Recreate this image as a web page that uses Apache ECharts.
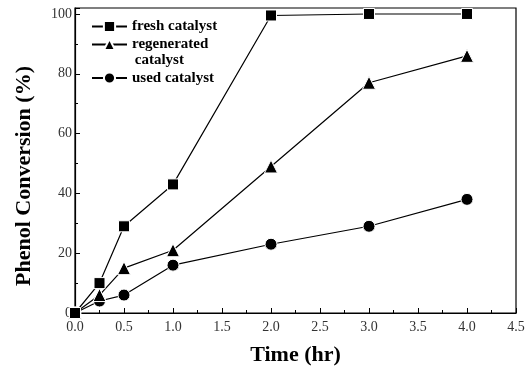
<!DOCTYPE html>
<html>
<head>
<meta charset="utf-8">
<script src="https://cdn.jsdelivr.net/npm/echarts@6/dist/echarts.min.js"></script>
<style>
    html, body { margin: 0; padding: 0; background: #fff; }
    #chart { width: 529px; height: 371px; }
</style>
</head>
<body>
<div id="chart"></div>
<script>
// 时间点 (hr)
const times = [0, 0.25, 0.5, 1, 2, 3, 4];

// 三种催化剂的苯酚转化率 (%)
const freshValues = [0, 10, 29, 43, 99.5, 100, 100];
const regeneratedValues = [0, 6, 15, 21, 49, 77, 86];
const usedValues = [0, 4, 6, 16, 23, 29, 38];

const seriesNames = ['fresh catalyst', 'regenerated\n catalyst', 'used catalyst'];
const seriesSymbols = ['rect', 'triangle', 'circle'];
const seriesSizes = [11, 13, 12];

const serifFont = '"Liberation Serif", "DejaVu Serif", serif';

function toPairs(values) {
    return times.map((t, i) => [t, values[i]]);
}

function makeSeries(name, values, idx) {
    return {
        name: name,
        type: 'line',
        data: toPairs(values),
        symbol: seriesSymbols[idx],
        symbolSize: seriesSizes[idx],
        lineStyle: { color: '#000', width: 1.2 },
        itemStyle: { color: '#000', borderColor: '#fff', borderWidth: 1 },
        emphasis: { disabled: true },
        z: 3 - idx
    };
}

const legendText = { fontFamily: serifFont, fontWeight: 'bold', fontSize: 15, color: '#000', lineHeight: 17 };

// 图例公共样式 (多行名称只显示第一行, 第二行用 graphic 补上)
const legendBase = {
    orient: 'vertical',
    left: 91,
    padding: 0,
    itemWidth: 35,
    itemHeight: 14,
    itemGap: 1,
    formatter: name => name.split('\n')[0],
    textStyle: legendText
};

const chart = echarts.init(document.getElementById('chart'));

chart.setOption({
    animation: false,
    backgroundColor: '#fff',
    grid: { left: 75, right: 13, top: 8, bottom: 57, show: true, borderColor: '#000', borderWidth: 1.2 },
    legend: [
        Object.assign({}, legendBase, {
            top: 18,
            data: [seriesNames[0], seriesNames[1]]
        }),
        Object.assign({}, legendBase, {
            top: 69.5,
            data: [seriesNames[2]]
        })
    ],
    graphic: [
        {
            type: 'text',
            x: 131,
            y: 60,
            style: Object.assign({}, legendText, {
                text: seriesNames[1].split('\n')[1],
                fill: '#000',
                verticalAlign: 'middle'
            })
        },
        {
            type: 'text',
            x: 24,
            y: 176,
            rotation: Math.PI / 2,
            style: {
                text: 'Phenol Conversion (%)',
                fontFamily: serifFont,
                fontWeight: 'bold',
                fontSize: 22,
                fill: '#000',
                align: 'center',
                verticalAlign: 'middle'
            }
        }
    ],
    xAxis: {
        type: 'value',
        min: 0,
        max: 4.5,
        interval: 0.5,
        name: 'Time (hr)',
        nameLocation: 'middle',
        nameGap: 31,
        nameTextStyle: { fontFamily: serifFont, fontWeight: 'bold', fontSize: 22, color: '#000' },
        axisLine: { lineStyle: { color: '#000', width: 1.2 } },
        axisTick: { inside: true, length: 5, lineStyle: { color: '#000' } },
        minorTick: { show: true, splitNumber: 2, length: 3, lineStyle: { color: '#000' } },
        axisLabel: {
            fontFamily: serifFont, fontSize: 14, color: '#333', margin: 7,
            formatter: v => v.toFixed(1)
        },
        splitLine: { show: false }
    },
    yAxis: {
        type: 'value',
        min: 0,
        max: 102,
        interval: 20,
        axisLine: { lineStyle: { color: '#000', width: 1.2 } },
        axisTick: { inside: true, length: 5, lineStyle: { color: '#000' } },
        minorTick: { show: true, splitNumber: 2, length: 3, lineStyle: { color: '#000' } },
        axisLabel: {
            fontFamily: serifFont, fontSize: 14, color: '#333', margin: 3,
            formatter: v => (v % 20 === 0 ? String(v) : '')
        },
        splitLine: { show: false }
    },
    series: [
        makeSeries(seriesNames[0], freshValues, 0),
        makeSeries(seriesNames[1], regeneratedValues, 1),
        makeSeries(seriesNames[2], usedValues, 2)
    ]
});

window.addEventListener('resize', function () {
    chart.resize();
});
</script>
</body>
</html>
